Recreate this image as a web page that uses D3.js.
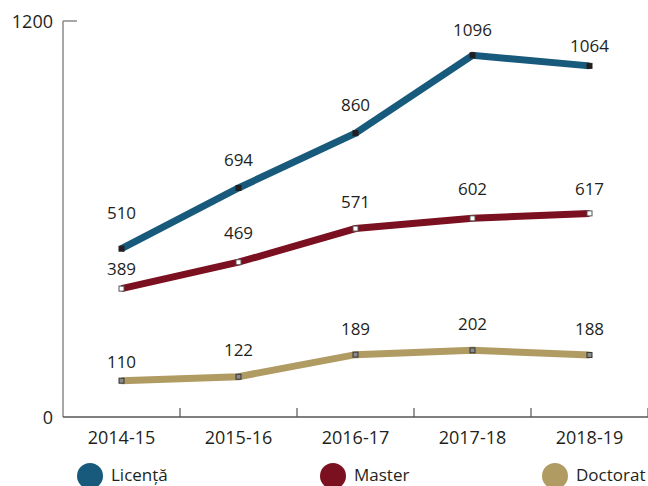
<!DOCTYPE html>
<html>
<head>
<meta charset="utf-8">
<script src="https://d3js.org/d3.v7.min.js"></script>
<style>
  body { margin: 0; background: #fff; }
  text { font-family: "Open Sans", sans-serif; fill: #231f20; }
</style>
</head>
<body>
<div id="chart"></div>
<script>
// data
let years = ["2014-15", "2015-16", "2016-17", "2017-18", "2018-19"]
let licenta = [510, 694, 860, 1096, 1064]
let master = [389, 469, 571, 602, 617]
let doctorat = [110, 122, 189, 202, 188]
let seriesNames = ["Licență", "Master", "Doctorat"]

// how far above each point the value label sits
let labelLift = [
    [36, 28, 28, 25, 20],
    [20, 29, 27, 29, 24],
    [19, 27, 26, 26, 26]
]

const width = 648, height = 486
const plotLeft = 63, plotRight = 648, plotTop = 21, plotBottom = 417

let series = [
    { name: seriesNames[0], values: licenta, color: "#175a7c", marker: "#231f20", markerStroke: "#231f20" },
    { name: seriesNames[1], values: master, color: "#7a1020", marker: "#ffffff", markerStroke: "#555" },
    { name: seriesNames[2], values: doctorat, color: "#b09b63", marker: "#8a8a8a", markerStroke: "#333" }
]

const svg = d3.select("#chart").append("svg")
    .attr("width", width)
    .attr("height", height)

const x = d3.scaleBand().domain(years).range([plotLeft, plotRight])
const y = d3.scaleLinear().domain([0, 1200]).range([plotBottom, plotTop])

// y axis: only 0 and 1200
svg.append("line")
    .attr("x1", plotLeft).attr("x2", plotLeft)
    .attr("y1", y(1200)).attr("y2", y(0))
    .attr("stroke", "#8a8a8a").attr("stroke-width", 1.5)
svg.append("line")
    .attr("x1", plotLeft).attr("x2", plotLeft + 14)
    .attr("y1", y(1200)).attr("y2", y(1200))
    .attr("stroke", "#8a8a8a").attr("stroke-width", 1.5)
svg.selectAll(".ylab")
    .data([0, 1200])
    .join("text")
    .attr("class", "ylab")
    .attr("x", plotLeft - 10)
    .attr("y", d => y(d) + 7)
    .attr("text-anchor", "end")
    .attr("font-size", 18)
    .text(d => d)

// x axis
svg.append("line")
    .attr("x1", plotLeft).attr("x2", plotRight)
    .attr("y1", plotBottom).attr("y2", plotBottom)
    .attr("stroke", "#555").attr("stroke-width", 1.5)
svg.selectAll(".xtick")
    .data(years)
    .join("line")
    .attr("class", "xtick")
    .attr("x1", d => x(d) + x.bandwidth())
    .attr("x2", d => x(d) + x.bandwidth())
    .attr("y1", plotBottom).attr("y2", plotBottom - 9)
    .attr("stroke", "#555").attr("stroke-width", 1.2)
svg.selectAll(".xlab")
    .data(years)
    .join("text")
    .attr("class", "xlab")
    .attr("x", d => x(d) + x.bandwidth() / 2)
    .attr("y", plotBottom + 27)
    .attr("text-anchor", "middle")
    .attr("font-size", 18)
    .text(d => d)

const line = d3.line()
    .x((d, i) => x(years[i]) + x.bandwidth() / 2)
    .y(d => y(d))

series.forEach(function (s, k) {
    svg.append("path")
        .datum(s.values)
        .attr("d", line)
        .attr("fill", "none")
        .attr("stroke", s.color)
        .attr("stroke-width", 7)
        .attr("stroke-linejoin", "miter")

    svg.selectAll(".mk" + k)
        .data(s.values)
        .join("rect")
        .attr("x", (d, i) => x(years[i]) + x.bandwidth() / 2 - 2.5)
        .attr("y", d => y(d) - 2.5)
        .attr("width", 5).attr("height", 5)
        .attr("fill", s.marker)
        .attr("stroke", s.markerStroke)
        .attr("stroke-width", 1)

    svg.selectAll(".lab" + k)
        .data(s.values)
        .join("text")
        .attr("x", (d, i) => x(years[i]) + x.bandwidth() / 2)
        .attr("y", (d, i) => y(d) - labelLift[k][i] + 6)
        .attr("text-anchor", "middle")
        .attr("font-size", 17)
        .text(d => d)
})

// legend
let legendX = [90, 333, 555]
let lg = svg.selectAll(".legend")
    .data(series)
    .join("g")
    .attr("class", "legend")
    .attr("transform", (d, i) => `translate(${legendX[i]},476)`)
lg.append("circle")
    .attr("r", 13)
    .attr("fill", d => d.color)
lg.append("text")
    .attr("x", 21)
    .attr("y", 5)
    .attr("font-size", 17)
    .text(d => d.name)
</script>
</body>
</html>
